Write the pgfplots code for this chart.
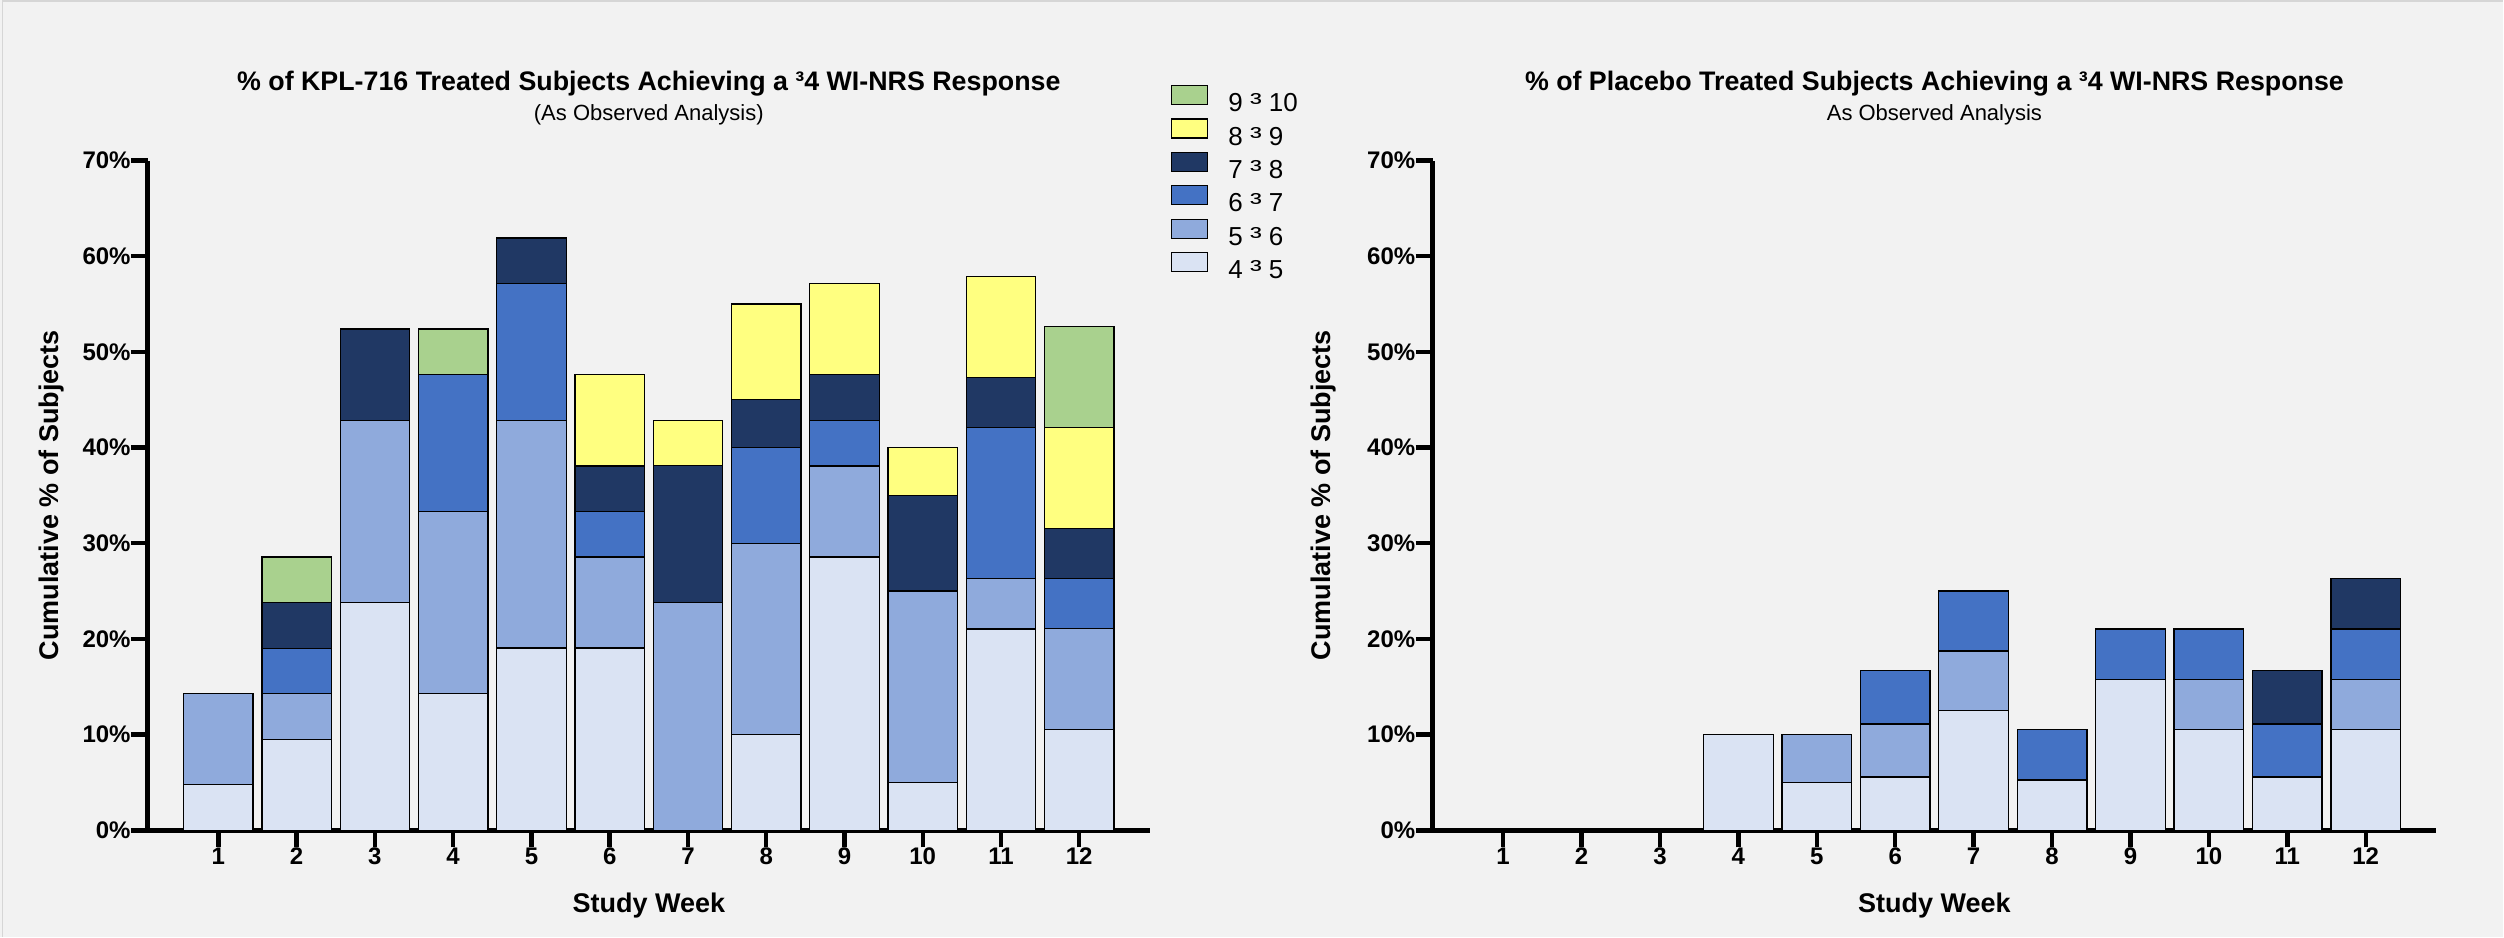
\documentclass[border=0pt]{standalone}
\usepackage{fontspec}
\setmainfont{Liberation Sans}
\usepackage{graphicx}
\usepackage{pgfplots}
\usepackage{pgfplotstable}
\pgfplotsset{compat=1.18}

\definecolor{bg}{HTML}{F2F2F2}
\definecolor{frame}{HTML}{D6D6D6}
\definecolor{c45}{HTML}{DAE3F3}
\definecolor{c56}{HTML}{8FAADC}
\definecolor{c67}{HTML}{4472C4}
\definecolor{c78}{HTML}{203864}
\definecolor{c89}{HTML}{FFFF80}
\definecolor{c910}{HTML}{A9D18E}

% the "³" that stands for >= in the band labels
\newcommand{\bandsep}{\scalebox{1.35}[1.0]{³}}

% Percent of subjects per response band, stacked by week
% a: 4-5, b: 5-6, c: 6-7, d: 7-8, e: 8-9, f: 9-10
\pgfplotstableread{
week a     b     c     d     e     f
1    4.76  9.52  0     0     0     0
2    9.52  4.76  4.76  4.76  0     4.76
3    23.81 19.05 0     9.52  0     0
4    14.29 19.05 14.29 0     0     4.76
5    19.05 23.81 14.29 4.76  0     0
6    19.05 9.52  4.76  4.76  9.52  0
7    0     23.81 0     14.29 4.76  0
8    10    20    10    5     10    0
9    28.57 9.52  4.76  4.76  9.52  0
10   5     20    0     10    5     0
11   21.05 5.26  15.79 5.26  10.53 0
12   10.53 10.53 5.26  5.26  10.53 10.53
}\kpl

\pgfplotstableread{
week a     b     c     d     e     f
1    0     0     0     0     0     0
2    0     0     0     0     0     0
3    0     0     0     0     0     0
4    10    0     0     0     0     0
5    5     5     0     0     0     0
6    5.56  5.56  5.56  0     0     0
7    12.5  6.25  6.25  0     0     0
8    5.26  0     5.26  0     0     0
9    15.79 0     5.26  0     0     0
10   10.53 5.26  5.26  0     0     0
11   5.56  0     5.56  5.56  0     0
12   10.53 5.26  5.26  5.26  0     0
}\placebo

\tikzset{
  paneltitle/.style={anchor=base, font=\bfseries\fontsize{13.4}{15}\selectfont},
  panelsub/.style={anchor=base, font=\fontsize{11}{13}\selectfont},
}

\pgfplotsset{
  panel/.style={
    scale only axis,
    height=335pt,
    ybar stacked,
    bar width=0.888,
    xmin=0.1, xmax=12.9, ymin=0, ymax=70,
    axis x line=bottom, axis y line=left,
    axis line style={-, line width=2.5pt, black},
    every tick/.style={black, line width=2.2pt},
    major tick length=8.5pt,
    tick align=outside,
    xtick={1,...,12}, ytick={0,10,...,70},
    minor tick num=0,
    clip=false,
    /pgf/number format/assume math mode=true,
    ticklabel style={font=\bfseries\fontsize{12}{14}\selectfont},
    xticklabel style={inner sep=0pt},
    yticklabel style={inner sep=0pt},
    yticklabel={\pgfmathprintnumber{\tick}\%},
    xlabel={Study Week},
    ylabel={Cumulative \% of Subjects},
    label style={font=\bfseries\fontsize{13.5}{16}\selectfont},
    xlabel style={at={(axis description cs:0.5,-0.122)}, anchor=base},
  },
  seg/.style={fill=#1, draw=black, line width=0.65pt,
    legend image code/.code={\draw[##1,/tikz/.cd,line width=0.65pt] (0pt,-0.2pt) rectangle (18pt,9.3pt);}},
}

\begin{document}
\begin{tikzpicture}
\fill[bg] (0,0) rectangle (1252pt,468.5pt);
\draw[frame, line width=0.75pt] (1.25pt,0) -- (1.25pt,468pt) -- (1252pt,468pt);

% KPL-716 arm
\begin{axis}[panel,
  at={(74pt,53.2pt)}, anchor=south west, width=501pt,
  ylabel style={at={(axis description cs:-0.0888,0.5)}, anchor=base},
  reverse legend,
  legend cell align=left,
  legend style={at={(axis description cs:1.021,1.1136)}, anchor=north west,
    draw=none, fill=none, inner sep=0pt, row sep=1.8pt, column sep=10pt,
    font=\fontsize{13}{14}\selectfont,
    nodes={inner sep=0pt}},
]
\addplot[seg=c45]  table[x=week,y=a]{\kpl}; \addlegendentry{4 \bandsep\ 5}
\addplot[seg=c56]  table[x=week,y=b]{\kpl}; \addlegendentry{5 \bandsep\ 6}
\addplot[seg=c67]  table[x=week,y=c]{\kpl}; \addlegendentry{6 \bandsep\ 7}
\addplot[seg=c78]  table[x=week,y=d]{\kpl}; \addlegendentry{7 \bandsep\ 8}
\addplot[seg=c89]  table[x=week,y=e]{\kpl}; \addlegendentry{8 \bandsep\ 9}
\addplot[seg=c910] table[x=week,y=f]{\kpl}; \addlegendentry{9 \bandsep\ 10}
\node[paneltitle] at (axis description cs:0.5,1.1045) {\% of KPL-716 Treated Subjects Achieving a ³4 WI-NRS Response};
\node[panelsub] at (axis description cs:0.5,1.0593) {(As Observed Analysis)};
\end{axis}

% Placebo arm
\begin{axis}[panel,
  at={(716.5pt,53.2pt)}, anchor=south west, width=502pt,
  ylabel style={at={(axis description cs:-0.1022,0.5)}, anchor=base},
]
\addplot[seg=c45]  table[x=week,y=a]{\placebo};
\addplot[seg=c56]  table[x=week,y=b]{\placebo};
\addplot[seg=c67]  table[x=week,y=c]{\placebo};
\addplot[seg=c78]  table[x=week,y=d]{\placebo};
\addplot[seg=c89]  table[x=week,y=e]{\placebo};
\addplot[seg=c910] table[x=week,y=f]{\placebo};
\node[paneltitle] at (axis description cs:0.5,1.1045) {\% of Placebo Treated Subjects Achieving a ³4 WI-NRS Response};
\node[panelsub] at (axis description cs:0.5,1.0593) {As Observed Analysis};
\end{axis}
\end{tikzpicture}
\end{document}
